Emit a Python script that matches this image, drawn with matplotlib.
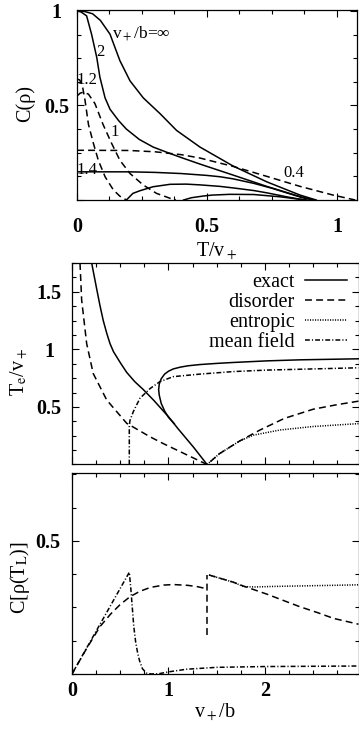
import matplotlib
matplotlib.use("Agg")
import matplotlib.pyplot as plt
from matplotlib.ticker import MultipleLocator, FixedLocator

plt.rcParams['font.family'] = ['Liberation Serif', 'DejaVu Serif']
plt.rcParams['mathtext.fontset'] = 'stix'
plt.rcParams['lines.scale_dashes'] = False

# ---------------- top panel: C(rho) vs T/v+ ----------------
T_inf = [0, 0.03, 0.06, 0.09, 0.127, 0.165, 0.204, 0.255, 0.32, 0.383, 0.473, 0.60, 0.73, 0.858, 0.92]
C_inf = [1, 0.997, 0.985, 0.95, 0.877, 0.737, 0.63, 0.54, 0.456, 0.368, 0.28, 0.18, 0.096, 0.026, 0]

T_2 = [0, 0.015, 0.037, 0.056, 0.076, 0.088, 0.108, 0.127, 0.16, 0.19, 0.24, 0.293, 0.35, 0.40, 0.473, 0.60, 0.73, 0.858, 0.91]
C_2 = [1, 0.995, 0.974, 0.877, 0.754, 0.65, 0.54, 0.48, 0.42, 0.375, 0.32, 0.28, 0.25, 0.225, 0.19, 0.132, 0.072, 0.018, 0]

T_14 = [0, 0.2, 0.3, 0.4, 0.5, 0.55, 0.6, 0.68, 0.75, 0.806, 0.86, 0.9]
C_14 = [0.149, 0.149, 0.146, 0.14, 0.13, 0.123, 0.112, 0.088, 0.062, 0.038, 0.015, 0.002]

T_04 = [0, 0.2, 0.3, 0.4, 0.473, 0.55, 0.6, 0.73, 0.858, 0.985, 1.07]
C_04 = [0.263, 0.262, 0.255, 0.24, 0.222, 0.195, 0.178, 0.125, 0.072, 0.026, 0.0]

T_12d = [0, 0.01, 0.02, 0.031, 0.044, 0.063, 0.082, 0.108, 0.14, 0.165, 0.19]
C_12d = [0.64, 0.635, 0.61, 0.526, 0.40, 0.30, 0.21, 0.123, 0.053, 0.02, 0]

T_1d = [0, 0.012, 0.024, 0.044, 0.069, 0.10, 0.133, 0.165, 0.204, 0.255, 0.306, 0.358, 0.38]
C_1d = [0.55, 0.565, 0.57, 0.56, 0.51, 0.40, 0.30, 0.21, 0.14, 0.079, 0.035, 0.009, 0]

T_12s = [0.19, 0.215, 0.242, 0.292, 0.358, 0.42, 0.473, 0.55, 0.60, 0.68, 0.73, 0.806, 0.85, 0.883]
C_12s = [0, 0.035, 0.049, 0.07, 0.083, 0.084, 0.08, 0.072, 0.064, 0.05, 0.038, 0.017, 0.006, 0]

T_1s = [0.41, 0.44, 0.486, 0.52, 0.588, 0.68, 0.78, 0.88]
C_1s = [0, 0.012, 0.021, 0.026, 0.03, 0.029, 0.017, 0]

# ---------------- middle panel: Te/v+ vs v+/b ----------------
v_ex1 = [0.204, 0.22, 0.25, 0.29, 0.324, 0.36, 0.394, 0.43, 0.50, 0.567, 0.65, 0.74, 0.85, 0.93, 1.0, 1.1, 1.2, 1.26, 1.33, 1.4]
T_ex1 = [1.75, 1.68, 1.55, 1.38, 1.25, 1.14, 1.05, 0.98, 0.885, 0.80, 0.72, 0.65, 0.555, 0.48, 0.415, 0.31, 0.21, 0.15, 0.075, 0.0]

v_ex2 = [1.06, 1.0, 0.96, 0.925, 0.905, 0.898, 0.905, 0.925, 0.96, 1.0, 1.05, 1.12, 1.2, 1.326, 1.5, 1.67, 2.02, 2.36, 2.97]
T_ex2 = [0.355, 0.41, 0.465, 0.53, 0.60, 0.65, 0.70, 0.745, 0.785, 0.81, 0.83, 0.845, 0.857, 0.868, 0.878, 0.886, 0.90, 0.909, 0.918]

v_dis = [0.083, 0.10, 0.152, 0.22, 0.36, 0.567, 0.81, 0.95, 1.1, 1.25, 1.40, 1.53, 1.74, 1.95, 2.2, 2.5, 2.75, 2.97]
T_dis = [1.75, 1.43, 1.05, 0.79, 0.56, 0.358, 0.24, 0.18, 0.12, 0.06, 0.0, 0.095, 0.205, 0.30, 0.40, 0.48, 0.52, 0.55]

v_ent = [1.40, 1.53, 1.74, 1.88, 2.16, 2.5, 2.97]
T_ent = [0.0, 0.095, 0.205, 0.255, 0.30, 0.33, 0.355]

v_mf = [0.594, 0.594, 0.60, 0.636, 0.705, 0.81, 0.912, 1.05, 1.326, 1.67, 2.02, 2.97]
T_mf = [0.0, 0.33, 0.38, 0.46, 0.576, 0.66, 0.72, 0.763, 0.785, 0.807, 0.82, 0.84]

# ---------------- bottom panel: C[rho(T_L)] vs v+/b ----------------
v_cmf = [0, 0.594, 0.61, 0.625, 0.64, 0.66, 0.68, 0.70, 0.73, 0.77, 0.82, 0.9, 1.0, 1.19, 1.5, 2.0, 2.5, 2.97]
C_cmf = [0, 0.382, 0.32, 0.25, 0.18, 0.12, 0.08, 0.05, 0.02, 0.004, 0.0, 0.001, 0.008, 0.018, 0.025, 0.028, 0.029, 0.03]

v_cdis_l = [0, 0.15, 0.29, 0.40, 0.497, 0.6, 0.7, 0.81, 0.95, 1.05, 1.2, 1.3, 1.40]
C_cdis_l = [0, 0.095, 0.178, 0.225, 0.26, 0.29, 0.31, 0.325, 0.334, 0.336, 0.333, 0.328, 0.32]
v_cdis_j = [1.40, 1.40]
C_cdis_j = [0.147, 0.372]
v_cdis_r = [1.42, 1.55, 1.67, 1.78, 1.9, 2.02, 2.2, 2.36, 2.55, 2.71, 2.97]
C_cdis_r = [0.372, 0.358, 0.345, 0.33, 0.315, 0.30, 0.275, 0.253, 0.23, 0.209, 0.187]

v_cent = [1.42, 1.55, 1.67, 1.78, 1.9, 2.1, 2.4, 2.7, 2.97]
C_cent = [0.372, 0.358, 0.345, 0.328, 0.327, 0.329, 0.331, 0.333, 0.335]

legend_labels = ['exact', 'disorder', 'entropic', 'mean field']

# ---------------- styles ----------------
W, H = 359, 739
LW = 1.1
DASH = (0, (5, 3))
DOT = (0, (0.8, 1.0))
DASHDOT = (0, (3.5, 1.5, 0.8, 1.5))

fig = plt.figure(figsize=(W / 100, H / 100), dpi=100)

def axes_px(l, r, t, b):
    return fig.add_axes([l / W, 1 - b / H, (r - l) / W, (b - t) / H])

ax1 = axes_px(77, 357, 10, 200)
ax2 = axes_px(72, 358.5, 263, 464.5)
ax3 = axes_px(72, 358.5, 473, 674)

FS = 14.5
for ax in (ax1, ax2, ax3):
    for s in ax.spines.values():
        s.set_linewidth(0.9)
    ax.tick_params(which='both', direction='in', top=True, right=True, width=0.8)
    ax.tick_params(which='major', length=5)
    ax.tick_params(which='minor', length=3)

# top panel
k = dict(color='black', lw=LW)
ax1.plot(T_inf, C_inf, **k)
ax1.plot(T_2, C_2, **k)
ax1.plot(T_14, C_14, **k)
ax1.plot(T_12s, C_12s, **k)
ax1.plot(T_1s, C_1s, **k)
ax1.plot(T_04, C_04, ls=DASH, **k)
ax1.plot(T_12d, C_12d, ls=DASH, **k)
ax1.plot(T_1d, C_1d, ls=DASH, **k)
ax1.set_xlim(0, 1.077)
ax1.set_ylim(0, 1.005)
ax1.xaxis.set_major_locator(FixedLocator([0, 0.5, 1]))
ax1.xaxis.set_minor_locator(MultipleLocator(0.125))
ax1.yaxis.set_major_locator(FixedLocator([0, 0.5, 1]))
ax1.yaxis.set_minor_locator(MultipleLocator(0.125))
ax1.set_xticklabels(['0', '0.5', '1'], fontsize=FS, fontweight='bold')
ax1.set_yticklabels(['', '0.5', '1'], fontsize=FS, fontweight='bold')
ax1.tick_params(axis='x', pad=12.5)
ax1.tick_params(axis='y', pad=14.5)
for t in ax1.get_yticklabels():
    t.set_ha('center')
ax1.set_ylabel('C(ρ)', fontsize=FS, va='center')
ax1.yaxis.set_label_coords((25 - 77) / 280, 0.51)
ax1.set_xlabel(r'T/v$_+$', fontsize=FS, va='center')
ax1.xaxis.set_label_coords(0.5, (200 - 252) / 190)

FL = 12
ax1.text(0.135, 0.879, r'v$_+$/b=∞', fontsize=FL + 0.5, ha='left', va='center')
ax1.text(0.088, 0.784, '2', fontsize=FL, ha='center', va='center')
ax1.text(0.038, 0.634, '1.2', fontsize=FL, ha='center', va='center')
ax1.text(0.146, 0.358, '1', fontsize=FL, ha='center', va='center')
ax1.text(0.038, 0.158, '1.4', fontsize=FL, ha='center', va='center')
ax1.text(0.835, 0.142, '0.4', fontsize=FL, ha='center', va='center')

# middle panel
h_ex, = ax2.plot(v_ex1, T_ex1, **k)
ax2.plot(v_ex2, T_ex2, **k)
h_dis, = ax2.plot(v_dis, T_dis, ls=DASH, **k)
h_ent, = ax2.plot(v_ent, T_ent, ls=DOT, **k)
h_mf, = ax2.plot(v_mf, T_mf, ls=DASHDOT, **k)
ax2.set_xlim(0, 2.97)
ax2.set_ylim(0, 1.75)
ax2.xaxis.set_major_locator(FixedLocator([0, 1, 2]))
ax2.xaxis.set_minor_locator(MultipleLocator(0.25))
ax2.yaxis.set_major_locator(FixedLocator([0.5, 1, 1.5]))
ax2.yaxis.set_minor_locator(MultipleLocator(0.125))
ax2.set_xticklabels([])
ax2.set_yticklabels(['0.5', '1', '1.5'], fontsize=FS, fontweight='bold')
ax2.tick_params(axis='y', pad=16.5)
for t in ax2.get_yticklabels():
    t.set_ha('center')
ax2.set_ylabel(r'T$_\mathrm{e}$/v$_+$', fontsize=FS, va='center')
ax2.yaxis.set_label_coords((20 - 72) / 286.5, 0.46)
leg = ax2.legend([h_ex, h_dis, h_ent, h_mf], legend_labels, loc='upper right',
                 bbox_to_anchor=(0.96, 0.952), frameon=False, markerfirst=False,
                 fontsize=FS, handlelength=2.1, handletextpad=0.5,
                 labelspacing=0.05, borderpad=0, borderaxespad=0)

# bottom panel
ax3.plot(v_cmf, C_cmf, ls=DASHDOT, **k)
ax3.plot(v_cdis_l, C_cdis_l, ls=DASH, **k)
ax3.plot(v_cdis_j, C_cdis_j, ls=DASH, **k)
ax3.plot(v_cdis_r, C_cdis_r, ls=DASH, **k)
ax3.plot(v_cent, C_cent, ls=DOT, **k)
ax3.set_xlim(0, 2.97)
ax3.set_ylim(0, 0.755)
ax3.xaxis.set_major_locator(FixedLocator([0, 1, 2]))
ax3.xaxis.set_minor_locator(MultipleLocator(0.25))
ax3.yaxis.set_major_locator(FixedLocator([0.5]))
ax3.yaxis.set_minor_locator(MultipleLocator(0.125))
ax3.set_xticklabels(['0', '1', '2'], fontsize=FS, fontweight='bold')
ax3.set_yticklabels(['0.5'], fontsize=FS, fontweight='bold')
ax3.tick_params(axis='x', pad=5)
ax3.tick_params(axis='y', pad=17.3)
for t in ax3.get_yticklabels():
    t.set_ha('center')
ax3.set_ylabel(r'C[ρ(T$_\mathrm{L}$)]', fontsize=FS, va='center')
ax3.yaxis.set_label_coords((20 - 72) / 286.5, 0.48)
ax3.set_xlabel(r'v$_+$/b', fontsize=FS, va='center')
ax3.xaxis.set_label_coords(0.5, (674 - 713) / 201)

fig.savefig('out.png', dpi=100)
